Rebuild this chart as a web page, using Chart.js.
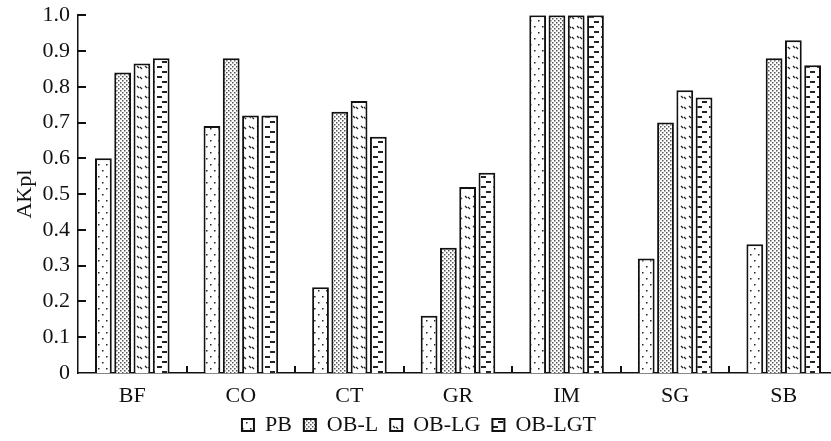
<!DOCTYPE html>
<html>
<head>
<meta charset="utf-8">
<script src="https://cdn.jsdelivr.net/npm/chart.js@4/dist/chart.umd.min.js"></script>
<style>
  html, body { margin: 0; padding: 0; background: #fff; overflow: hidden; }
  #wrap { width: 840px; height: 447px; margin-top: -6px; }
</style>
</head>
<body>
<div id="wrap"><canvas id="chartAkpl"></canvas></div>
<script>
// categories and series
var categories = ['BF', 'CO', 'CT', 'GR', 'IM', 'SG', 'SB'];
var seriesNames = ['PB', 'OB-L', 'OB-LG', 'OB-LGT'];
var pb     = [0.60, 0.69, 0.24, 0.16, 1.00, 0.32, 0.36];
var obL    = [0.84, 0.88, 0.73, 0.35, 1.00, 0.70, 0.88];
var obLG   = [0.865, 0.72, 0.76, 0.52, 1.00, 0.79, 0.93];
var obLGT  = [0.88, 0.72, 0.66, 0.56, 1.00, 0.77, 0.86];
var yTicks = [0, 0.1, 0.2, 0.3, 0.4, 0.5, 0.6, 0.7, 0.8, 0.9, 1.0];

const FONT = "'Liberation Serif', 'Times New Roman', serif";

// little fill patterns, like the hatching in the print
function makePattern(w, h, drawFn) {
	var c = document.createElement('canvas');
	c.width = w; c.height = h;
	var g = c.getContext('2d');
	g.fillStyle = '#fff';
	g.fillRect(0, 0, w, h);
	g.fillStyle = '#222';
	g.strokeStyle = '#222';
	drawFn(g);
	return g.createPattern(c, 'repeat');
}

var patPB = makePattern(8, 12, function(g){
	g.fillRect(2, 2, 1.5, 1.5);
	g.fillRect(6, 8, 1.5, 1.5);
});
var patOBL = makePattern(4, 4, function(g){
	g.fillStyle = '#555';
	g.fillRect(0, 0, 1.5, 1.5);
	g.fillRect(2, 2, 1.5, 1.5);
});
var patOBLG = makePattern(8, 10, function(g){
	g.lineWidth = 1.2;
	g.beginPath();
	g.moveTo(1, 2); g.lineTo(3, 4);
	g.moveTo(4, 3); g.lineTo(6, 5);
	g.stroke();
});
var patOBLGT = makePattern(12, 10, function(g){
	g.fillRect(1, 2, 5, 2);
	g.fillRect(6, 7, 5, 2);
});

var patterns = [patPB, patOBL, patOBLG, patOBLGT];
var values = [pb, obL, obLG, obLGT];

var datasets = [];
for (var k = 0; k < seriesNames.length; k++) {
	datasets.push({
		label: seriesNames[k],
		data: values[k],
		backgroundColor: patterns[k],
		borderColor: '#111',
		borderWidth: 2,
		borderSkipped: 'start',
		categoryPercentage: 0.71,
		barPercentage: 0.87
	});
}

// short tick marks pointing into the plot
var innerTicks = {
	id: 'innerTicks',
	afterDraw: function(chart) {
		var ctx = chart.ctx;
		var ca = chart.chartArea;
		var ys = chart.scales.y;
		var xs = chart.scales.x;
		ctx.save();
		ctx.fillStyle = '#111';
		for (var i = 1; i < yTicks.length; i++) {
			var py = Math.round(ys.getPixelForValue(yTicks[i]));
			ctx.fillRect(ca.left, py - 1, 8, 2);
		}
		for (var j = 0; j < categories.length - 1; j++) {
			var px = Math.round((xs.getPixelForValue(j) + xs.getPixelForValue(j + 1)) / 2);
			ctx.fillRect(px - 1, ca.bottom - 7, 2, 7);
		}
		ctx.restore();
	}
};

const ctx1 = document.getElementById('chartAkpl').getContext('2d');

var chartAkpl = new Chart(ctx1, {
	type: 'bar',
	data: {
		labels: categories,
		datasets: datasets
	},
	options: {
		responsive: true,
		maintainAspectRatio: false,
		animation: false,
		layout: { padding: { left: 0, right: 2, top: 0, bottom: -5 } },
		plugins: {
			legend: {
				position: 'bottom',
				labels: {
					boxWidth: 12,
					boxHeight: 12,
					padding: 12,
					color: '#111',
					font: { family: FONT, size: 22 }
				}
			},
			tooltip: { enabled: false }
		},
		scales: {
			x: {
				grid: { display: false, drawTicks: false },
				border: { display: true, color: '#111', width: 1.5 },
				ticks: {
					color: '#111',
					padding: 10,
					font: { family: FONT, size: 22 }
				},
				afterFit: function(scale) { scale.height = 29; }
			},
			y: {
				min: 0,
				max: 1,
				afterBuildTicks: function(scale) {
					scale.ticks = yTicks.map(function(v){ return { value: v }; });
				},
				grid: { display: false, drawTicks: false },
				border: { display: true, color: '#111', width: 1.5 },
				ticks: {
					color: '#111',
					padding: 8,
					font: { family: FONT, size: 22 },
					callback: function(v) { return v === 0 ? '0' : v.toFixed(1); }
				},
				title: {
					display: true,
					text: 'AKpl',
					color: '#111',
					padding: { top: 12, bottom: 0 },
					font: { family: FONT, size: 22 }
				},
				afterFit: function(scale) { scale.width = 78; }
			}
		}
	},
	plugins: [innerTicks]
});
</script>
</body>
</html>
